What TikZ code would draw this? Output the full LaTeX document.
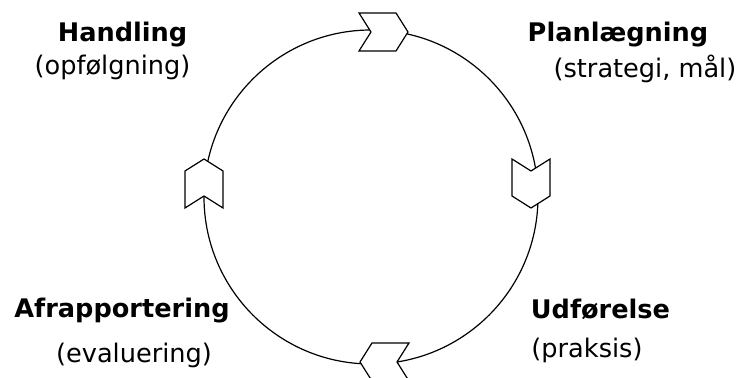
\documentclass[tikz,border=0pt]{standalone}
\usepackage{fontspec}
\setmainfont{DejaVu Sans}
\usepackage{tikz}
\usetikzlibrary{positioning}
\tikzset{
	stage/.style={inner sep=0pt, anchor=base, font=\bfseries},
	stagenote/.style={inner sep=0pt, anchor=base},
	chevron/.pic={\draw[fill=white, line join=miter]
		(-12,-19) -- (25,-19) -- (37,0) -- (25,19) -- (-12,19) -- (0,0) -- cycle;}
}

\begin{document}
\begin{tikzpicture}[x=0.5pt, y=-0.5pt, line width=0.6pt]
\fontsize{12.8}{15}\selectfont
\clip (0,0) rectangle (741,378);
\coordinate (centre) at (371,197);
\draw (centre) circle [radius=167];

\pic (toparrow) at (371,32) {chevron};
\pic[rotate=-90] (rightarrow) at (531,171) {chevron};
\pic[rotate=180] (bottomarrow) at (397,362) {chevron};
\pic[rotate=90] (leftarrow) at (204,196) {chevron};

\node (handling) 
	[stage] at (122.5,42)
	{Handling};
\node (thandling) 
	[stagenote] at (112.5,75)
	{(opfølgning)};
\node (plan) 
	[stage] at (618,42)
	{Planlægning};
\node (tplan) 
	[stagenote] at (645,78)
	{(strategi, mål)};
\node (udf) 
	[stage] at (600.5,319)
	{Udførelse};
\node (tudf) 
	[stagenote] at (587,358)
	{(praksis)};
\node (afrap) 
	[stage] at (122,318)
	{Afrapportering};
\node (tafrap) 
	[stagenote] at (134,363)
	{(evaluering)};
\end{tikzpicture}
\end{document}
